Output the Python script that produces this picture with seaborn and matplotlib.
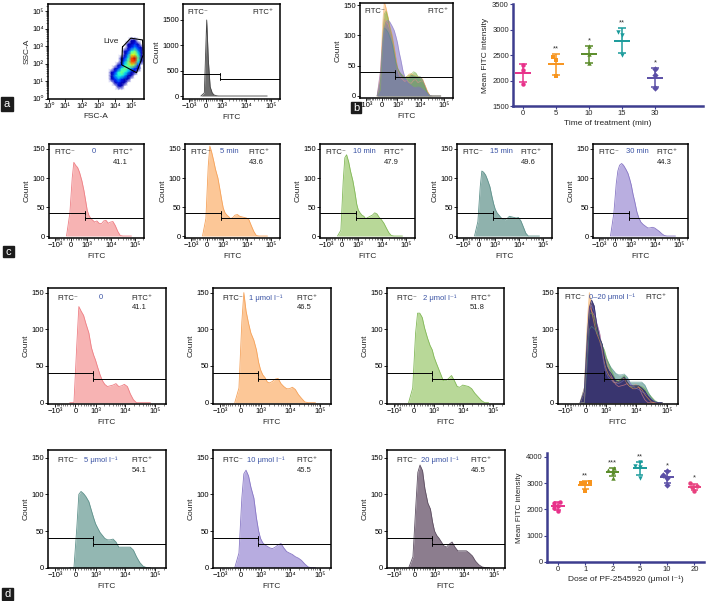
import matplotlib
matplotlib.use('Agg')
import matplotlib.pyplot as plt
import numpy as np
import pandas as pd
import seaborn as sns

W, H = 706, 601

# ---------------- histogram data: counts at each FITC value ----------------
FITC_X = [-200, -50, 50, 120, 200, 300, 400, 550, 700, 850, 1000, 1200, 1450, 1750,
          2100, 2600, 3200, 4000, 5000, 6200, 7700, 9500, 12000, 15000, 19000,
          24000, 31000, 40000, 52000, 70000]

COUNT_CTRL = [0, 60, 1500, 700, 180, 60, 20, 5, 0, 0, 0, 0, 0, 0, 0,
              0, 0, 0, 0, 0, 0, 0, 0, 0, 0, 0, 0, 0, 0, 0]

# time course (panel c, overlaid in b)
C_0 = [0, 40, 100, 127, 122, 118, 110, 95, 78, 60, 44, 35, 30, 27, 24,
       26, 22, 21, 26, 27, 22, 24, 25, 18, 8, 1, 0, 0, 0, 0]
C_5 = [0, 30, 120, 155, 145, 130, 115, 100, 80, 62, 48, 40, 36, 33, 30,
       32, 36, 37, 34, 33, 32, 31, 28, 18, 8, 1, 0, 0, 0, 0]
C_10 = [0, 10, 95, 135, 140, 128, 112, 95, 75, 55, 45, 40, 36, 34, 30,
        32, 34, 36, 40, 38, 32, 28, 22, 14, 6, 1, 0, 0, 0, 0]
C_15 = [0, 25, 85, 112, 110, 105, 97, 85, 68, 55, 46, 40, 36, 32, 29,
        28, 30, 34, 33, 32, 31, 32, 26, 16, 5, 0, 0, 0, 0, 0]
C_30 = [0, 40, 90, 112, 122, 125, 122, 115, 108, 98, 88, 72, 58, 42, 32,
        24, 20, 17, 14, 14, 15, 14, 11, 8, 4, 1, 0, 0, 0, 0]

# dose response (panel d)
D_0 = [0, 0, 80, 131, 125, 119, 108, 95, 75, 65, 58, 48, 38, 30, 25,
       22, 23, 24, 26, 22, 23, 25, 22, 12, 4, 0, 0, 0, 0, 0]
D_1 = [0, 20, 110, 150, 125, 108, 95, 85, 72, 55, 45, 38, 34, 28, 27,
       29, 32, 33, 26, 22, 19, 19, 21, 18, 11, 6, 1, 0, 0, 0]
D_2 = [0, 20, 95, 122, 122, 116, 102, 88, 78, 72, 62, 54, 46, 38, 30,
       30, 33, 37, 30, 22, 21, 24, 23, 22, 19, 13, 8, 3, 0, 0]
D_5 = [0, 0, 55, 100, 104, 101, 97, 90, 78, 68, 60, 54, 48, 44, 40,
       38, 38, 39, 35, 28, 28, 28, 28, 28, 24, 15, 7, 2, 0, 0]
D_10 = [0, 20, 95, 128, 133, 125, 110, 95, 68, 50, 40, 34, 31, 29, 27,
        26, 28, 31, 33, 27, 22, 20, 18, 15, 13, 10, 5, 1, 0, 0]
D_20 = [0, 15, 85, 130, 140, 132, 108, 88, 80, 62, 50, 44, 40, 35, 30,
        28, 32, 35, 28, 23, 23, 23, 23, 20, 16, 9, 4, 1, 0, 0]

GATE_FITC = 800

C_NAMES = ['0', '5 min', '10 min', '15 min', '30 min']
C_PCTS = ['41.1', '43.6', '47.9', '49.6', '44.3']
D_NAMES = ['0', '1 μmol l⁻¹', '2 μmol l⁻¹', '0–20 μmol l⁻¹',
           '5 μmol l⁻¹', '10 μmol l⁻¹', '20 μmol l⁻¹']
D_PCTS = ['41.1', '46.5', '51.8', '', '54.1', '45.5', '46.5']

# ---------------- FSC/SSC dot plot: density on a log grid ----------------
DOT_X_LOG = [3.6, 3.8, 4.0, 4.2, 4.4, 4.6, 4.8, 5.0, 5.2, 5.4, 5.6, 5.8]
DOT_Y_LOG = [3.5, 3.3, 3.1, 2.9, 2.7, 2.5, 2.3, 2.1, 1.9, 1.7, 1.5, 1.3, 1.1, 0.9, 0.7, 0.5]
DOT_DENSITY = [
    [0, 0, 0, 0, 0, 0, 0, 0, 0, 0, 0, 0],
    [0, 0, 0, 0, 0, 0, 0, 1, 1, 0, 0, 0],
    [0, 0, 0, 0, 0, 0, 1, 1, 2, 1, 0, 0],
    [0, 0, 0, 0, 0, 0, 1, 2, 3, 2, 1, 0],
    [0, 0, 0, 0, 0, 1, 2, 4, 5, 3, 1, 0],
    [0, 0, 0, 0, 0, 1, 3, 6, 6, 4, 1, 0],
    [0, 0, 0, 0, 1, 2, 4, 8, 9, 5, 1, 0],
    [0, 0, 0, 0, 1, 3, 5, 8, 8, 4, 1, 0],
    [0, 0, 0, 1, 2, 4, 5, 6, 5, 2, 0, 0],
    [0, 0, 1, 2, 4, 5, 4, 3, 2, 1, 0, 0],
    [0, 1, 2, 4, 5, 4, 3, 1, 1, 0, 0, 0],
    [0, 1, 3, 4, 4, 3, 1, 1, 0, 0, 0, 0],
    [0, 1, 2, 3, 2, 1, 1, 0, 0, 0, 0, 0],
    [0, 0, 1, 2, 1, 1, 0, 0, 0, 0, 0, 0],
    [0, 0, 0, 1, 1, 0, 0, 0, 0, 0, 0, 0],
    [0, 0, 0, 0, 0, 0, 0, 0, 0, 0, 0, 0],
]
LIVE_GATE_X_LOG = [4.45, 4.95, 5.66, 5.70, 5.30, 4.40, 4.45]
LIVE_GATE_Y_LOG = [2.95, 3.45, 3.35, 2.50, 1.48, 1.93, 2.95]

# ---------------- mean FITC intensity ----------------
TIME_GROUPS = ['0', '5', '10', '15', '30']
TIME_VALUES = [[2300, 2200, 1940], [2470, 2400, 2080], [2680, 2510, 2340],
               [2950, 2900, 2500], [2220, 2100, 1850]]
TIME_STARS = ['', '**', '*', '**', '*']

DOSE_GROUPS = ['0', '1', '2', '5', '10', '20']
DOSE_VALUES = [[2300, 2250, 2150, 2050, 1950], [3050, 3020, 2990, 2720],
               [3580, 3500, 3420, 3200], [3800, 3650, 3600, 3200],
               [3480, 3300, 3200, 2950], [3000, 2900, 2850, 2700]]
DOSE_STARS = ['', '**', '***', '**', '*', '*']

# colours
BLUE = '#3a53a4'
NAVY = '#3d3d8f'
C_FILLS = ['#f7b3b3', '#fcc797', '#b8d898', '#8fb2ad', '#b9aee0']
C_EDGES = ['#ee7f85', '#f5a25a', '#82b857', '#5f928c', '#8877c5']
OVER_COLS = ['#f08c8c', '#f6a24a', '#7db54a', '#4d8e88', '#8070c4', '#2e2866']
D_FILLS = ['#f7b3b3', '#fcc797', '#b8d898', '#93b7b2', '#b7ace0', '#8c7d8e']
D_EDGES = ['#ee7f85', '#f5a25a', '#82b857', '#5f928c', '#8877c5', '#5e4f62']
TIME_COLS = ['#e8318a', '#f7941d', '#5b8c2a', '#1a9b9b', '#5b4fa6']
TIME_MARKERS = ['o', 's', '^', 'v', 'D']
DOSE_COLS = ['#e8318a', '#f7941d', '#5b8c2a', '#1a9b9b', '#5b4fa6', '#e8407e']
DOSE_MARKERS = ['o', 's', '^', 'v', 'D', 'o']

sns.set_theme(style='ticks')
plt.rcParams['font.family'] = ['Liberation Sans', 'DejaVu Sans']
plt.rcParams['axes.linewidth'] = 1.0

TICK_FS = 5.5
LAB_FS = 6


def add_ax(fig, left, top, right, bottom):
    return fig.add_axes([left / W, 1 - bottom / H, (right - left) / W, (bottom - top) / H])


def style_hist(ax, ylim, yticks):
    ax.set_xscale('asinh', linear_width=450)
    ax.set_xlim(-1800, 230000)
    ax.set_xticks([-1000, 0, 1000, 10000, 100000], ['−10³', '0', '10³', '10⁴', '10⁵'])
    minor = ([-k * 100 for k in range(1, 10)] + [k * 100 for k in range(1, 10)]
             + [k * 1000 for k in range(2, 10)] + [k * 10000 for k in range(2, 10)] + [200000])
    ax.set_xticks(minor, minor=True)
    ax.set_ylim(*ylim)
    ax.set_yticks(yticks)
    for s in ax.spines.values():
        s.set_linewidth(1.1)
        s.set_color('black')
    ax.tick_params(labelsize=TICK_FS, length=2, width=0.6, pad=1, colors='black')
    ax.tick_params(which='minor', length=1.3, width=0.4)
    ax.set_xlabel('FITC', fontsize=LAB_FS, labelpad=3)
    ax.set_ylabel('Count', fontsize=LAB_FS, labelpad=1)


def draw_hist(ax, counts, fill, edge, alpha=1.0):
    ax.fill_between(FITC_X, counts, 0, color=fill, alpha=alpha, lw=0)
    sns.lineplot(x=FITC_X, y=counts, ax=ax, color=edge, lw=0.6, alpha=alpha)


def draw_gate(ax, left_y, right_y, cap):
    x0, x1 = ax.get_xlim()
    kw = dict(color='black', lw=0.7, zorder=5)
    ax.plot([x0, GATE_FITC], [left_y, left_y], **kw)
    ax.plot([GATE_FITC, x1], [right_y, right_y], **kw)
    ax.plot([GATE_FITC, GATE_FITC], [left_y - cap, left_y + cap], **kw)
    ax.plot([GATE_FITC, GATE_FITC], [right_y - cap, right_y + cap], **kw)


def label_hist(ax, name, pct, y_top, y_pct, neg_x=0.06, name_x=0.47, pos_x=0.67):
    kw = dict(transform=ax.transAxes, fontsize=TICK_FS, va='top')
    ax.text(neg_x, y_top, 'FITC⁻', color='#222222', **kw)
    ax.text(pos_x, y_top, 'FITC⁺', color='#222222', **kw)
    if name:
        ax.text(name_x, y_top + 0.005, name, color=BLUE, ha='center', **kw)
    if pct:
        ax.text(pos_x, y_pct, pct, color='#222222', **kw)


def scatter_panel(ax, groups, values, colors, markers, stars, star_pad):
    rows = [(g, v) for g, vals in zip(groups, values) for v in vals]
    df = pd.DataFrame(rows, columns=['group', 'value'])
    for i, g in enumerate(groups):
        sub = df[df['group'] == g]
        sns.swarmplot(data=sub, x='group', y='value', order=groups, color=colors[i],
                      marker=markers[i], size=3.2, linewidth=0, ax=ax, zorder=3)
        mean, sd = sub['value'].mean(), sub['value'].std()
        ax.hlines(mean, i - 0.25, i + 0.25, color=colors[i], lw=1.4, zorder=4)
        ax.hlines([mean - sd, mean + sd], i - 0.13, i + 0.13, color=colors[i], lw=1.1, zorder=4)
        ax.vlines(i, mean - sd, mean + sd, color=colors[i], lw=1.1, zorder=4)
        if stars[i]:
            ax.text(i, mean + sd + star_pad, stars[i], ha='center', va='center',
                    fontsize=5.5, color='#333333')
    sns.despine(ax=ax)
    for side in ['left', 'bottom']:
        ax.spines[side].set_color(NAVY)
        ax.spines[side].set_linewidth(1.8)
    ax.tick_params(labelsize=TICK_FS, length=2, width=0.8, pad=1, color=NAVY)


def panel_letter(fig, letter, left, top, right, bottom):
    fig.add_artist(plt.Rectangle((left / W, 1 - bottom / H), (right - left) / W, (bottom - top) / H,
                                 transform=fig.transFigure, color='#1c1c1c'))
    fig.text((left + right) / 2 / W, 1 - (top + bottom) / 2 / H, letter, color='white',
             ha='center', va='center', fontsize=8)


fig = plt.figure(figsize=(W / 100, H / 100), dpi=100)
fig.patch.set_facecolor('white')

# ---- a: FSC/SSC dot plot ----
ax = add_ax(fig, 48, 4, 144, 99)
gx, gy = np.meshgrid(10 ** np.array(DOT_X_LOG), 10 ** np.array(DOT_Y_LOG))
jet = plt.get_cmap('jet').copy()
jet.set_under('white')
ax.pcolormesh(gx, gy, np.array(DOT_DENSITY, dtype=float), cmap=jet, vmin=0.55, vmax=9.5,
              shading='gouraud')
ax.plot(10 ** np.array(LIVE_GATE_X_LOG), 10 ** np.array(LIVE_GATE_Y_LOG), color='black', lw=0.8)
ax.text(10 ** 3.75, 10 ** 3.28, 'Live', fontsize=TICK_FS + 0.5, ha='center', va='center')
ax.set_xscale('log')
ax.set_yscale('log')
ax.set_xlim(10 ** -0.05, 10 ** 5.75)
ax.set_ylim(10 ** -0.02, 10 ** 5.4)
decades = [10 ** k for k in range(6)]
dec_labels = ['10⁰', '10¹', '10²', '10³', '10⁴', '10⁵']
ax.set_xticks(decades, dec_labels)
ax.set_yticks(decades, dec_labels)
for s in ax.spines.values():
    s.set_linewidth(1.1)
    s.set_color('black')
ax.tick_params(labelsize=TICK_FS, length=2, width=0.6, pad=1, colors='black')
ax.tick_params(which='minor', length=1.2, width=0.4)
ax.set_xlabel('FSC-A', fontsize=LAB_FS, labelpad=2)
ax.set_ylabel('SSC-A', fontsize=LAB_FS, labelpad=1)

# ---- a: unstained control histogram ----
ax = add_ax(fig, 183, 4, 280, 99)
style_hist(ax, (-59, 1815), [0, 500, 1000, 1500])
draw_hist(ax, COUNT_CTRL, '#6e6e6e', '#444444')
draw_gate(ax, 430, 340, 30)
label_hist(ax, '', '', 0.95, 0.82, neg_x=0.05, pos_x=0.72)

# ---- b: overlay of time points ----
ax = add_ax(fig, 360, 3, 453, 98)
style_hist(ax, (-3.3, 153.3), [0, 50, 100, 150])
for counts, col in zip([C_0, C_5, C_10, C_15, C_30], OVER_COLS):
    draw_hist(ax, counts, col, col, alpha=0.55)
draw_gate(ax, 40, 31, 3)
label_hist(ax, '', '', 0.95, 0.82, neg_x=0.05, pos_x=0.72)

# ---- b: mean FITC vs time ----
ax = add_ax(fig, 513, 4, 703, 106)
scatter_panel(ax, TIME_GROUPS, TIME_VALUES, TIME_COLS, TIME_MARKERS, TIME_STARS, 100)
ax.set_xlim(-0.3, 5.45)
ax.set_ylim(1500, 3500)
ax.set_yticks([1500, 2000, 2500, 3000, 3500])
ax.set_xlabel('Time of treatment (min)', fontsize=LAB_FS, labelpad=2)
ax.set_ylabel('Mean FITC intensity', fontsize=LAB_FS, labelpad=2)

# ---- c: time course histograms ----
for i, counts in enumerate([C_0, C_5, C_10, C_15, C_30]):
    left = [49, 185, 320, 457, 593][i]
    ax = add_ax(fig, left, 144, left + 95, 238)
    style_hist(ax, (-3.4, 158.6), [0, 50, 100, 150])
    draw_hist(ax, counts, C_FILLS[i], C_EDGES[i])
    draw_gate(ax, 40, 31, 3)
    label_hist(ax, C_NAMES[i], C_PCTS[i], 0.95, 0.84)

# ---- d: dose histograms ----
d_series = [D_0, D_1, D_2, None, D_5, D_10, D_20]
d_boxes = [(48, 288, 166, 404), (213, 288, 331, 404), (387, 288, 504, 404), (558, 288, 678, 404),
           (48, 450, 166, 568), (213, 450, 331, 568), (387, 450, 505, 568)]
d_fill_idx = [0, 1, 2, None, 3, 4, 5]
for i, (counts, box) in enumerate(zip(d_series, d_boxes)):
    ax = add_ax(fig, *box)
    ylim = (-1.8, 156.3) if i < 4 else (-0.4, 160.5)
    style_hist(ax, ylim, [0, 50, 100, 150])
    if counts is None:
        for c, col in zip([D_0, D_1, D_2, D_5, D_10], OVER_COLS[:5]):
            draw_hist(ax, c, col, col, alpha=0.6)
        draw_hist(ax, D_20, OVER_COLS[5], OVER_COLS[5], alpha=0.85)
        label_hist(ax, D_NAMES[i], '', 0.95, 0.86, neg_x=0.05, name_x=0.45, pos_x=0.73)
    else:
        k = d_fill_idx[i]
        draw_hist(ax, counts, D_FILLS[k], D_EDGES[k])
        label_hist(ax, D_NAMES[i], D_PCTS[i], 0.94, 0.86, neg_x=0.08, name_x=0.45, pos_x=0.71)
    draw_gate(ax, 40, 32, 3)

# ---- d: mean FITC vs dose ----
ax = add_ax(fig, 547, 453, 704, 562)
scatter_panel(ax, DOSE_GROUPS, DOSE_VALUES, DOSE_COLS, DOSE_MARKERS, DOSE_STARS, 200)
ax.set_xlim(-0.4, 5.35)
ax.set_ylim(0, 4150)
ax.set_yticks([0, 1000, 2000, 3000, 4000])
ax.set_xlabel('Dose of PF-2545920 (μmol l⁻¹)', fontsize=LAB_FS, labelpad=2)
ax.set_ylabel('Mean FITC intensity', fontsize=LAB_FS - 0.3, labelpad=2)

panel_letter(fig, 'a', 1, 97, 13, 111)
panel_letter(fig, 'b', 351, 102, 361, 113)
panel_letter(fig, 'c', 3, 246, 14, 257)
panel_letter(fig, 'd', 2, 588, 13, 600)

fig.savefig('out.png', dpi=100)
